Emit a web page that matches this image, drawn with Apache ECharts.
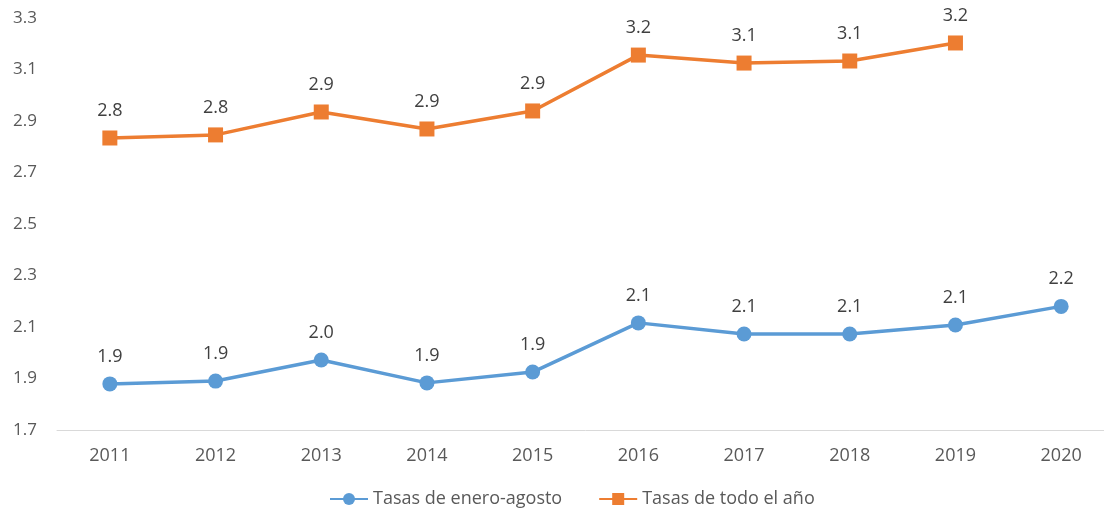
<!DOCTYPE html>
<html><head><meta charset="utf-8">
<script src="https://cdn.jsdelivr.net/npm/echarts@6/dist/echarts.min.js"></script>
<style>html,body{margin:0;padding:0;background:#fff;overflow:hidden}#c{width:1115px;height:508px}</style>
</head><body><div id="c"></div>
<script>
var categories = ['2011','2012','2013','2014','2015','2016','2017','2018','2019','2020'];
var seriesNames = ['Tasas de enero-agosto','Tasas de todo el año'];
var eneroAgosto = [1.879, 1.890, 1.972, 1.883, 1.925, 2.116, 2.073, 2.073, 2.108, 2.180];
var todoElAno = [2.834, 2.846, 2.935, 2.869, 2.939, 3.156, 3.125, 3.133, 3.203, null];
var yTicks = [1.7, 1.9, 2.1, 2.3, 2.5, 2.7, 2.9, 3.1, 3.3];

var FONT = 'Open Sans';
var chart = echarts.init(document.getElementById('c'));
function lbl(p){ return p.value == null ? '' : p.value.toFixed(1); }
chart.setOption({
  animation: false,
  grid: {left: 57, top: 18, width: 1057, height: 412, containLabel: false},
  legend: {
    top: 485, left: 324, itemWidth: 38, itemHeight: 15, itemGap: 36,
    textStyle: {fontFamily: FONT, fontSize: 18, color: '#595959'},
    data: seriesNames
  },
  xAxis: {
    type: 'category', data: categories, boundaryGap: true,
    axisLine: {lineStyle: {color: '#d9d9d9', width: 1}},
    axisTick: {show: false},
    axisLabel: {fontFamily: FONT, fontSize: 18, color: '#595959', margin: 17}
  },
  yAxis: {
    type: 'value', min: yTicks[0], max: yTicks[yTicks.length-1], interval: 0.2,
    axisLine: {show: false}, axisTick: {show: false}, splitLine: {show: false},
    axisLabel: {fontFamily: FONT, fontSize: 17, color: '#595959', margin: 20,
      formatter: function(v){ return v.toFixed(1); }}
  },
  series: [
    {name: seriesNames[0], type: 'line', data: eneroAgosto, symbol: 'circle', symbolSize: 15,
     itemStyle: {color: '#5b9bd5'}, lineStyle: {color: '#5b9bd5', width: 3.5},
     label: {show: true, position: 'top', distance: 11, formatter: lbl, fontFamily: FONT, fontSize: 18, color: '#404040'}},
    {name: seriesNames[1], type: 'line', data: todoElAno, symbol: 'rect', symbolSize: 15,
     itemStyle: {color: '#ed7d31'}, lineStyle: {color: '#ed7d31', width: 3.5},
     label: {show: true, position: 'top', distance: 11, formatter: lbl, fontFamily: FONT, fontSize: 18, color: '#404040'}}
  ]
});
</script></body></html>
